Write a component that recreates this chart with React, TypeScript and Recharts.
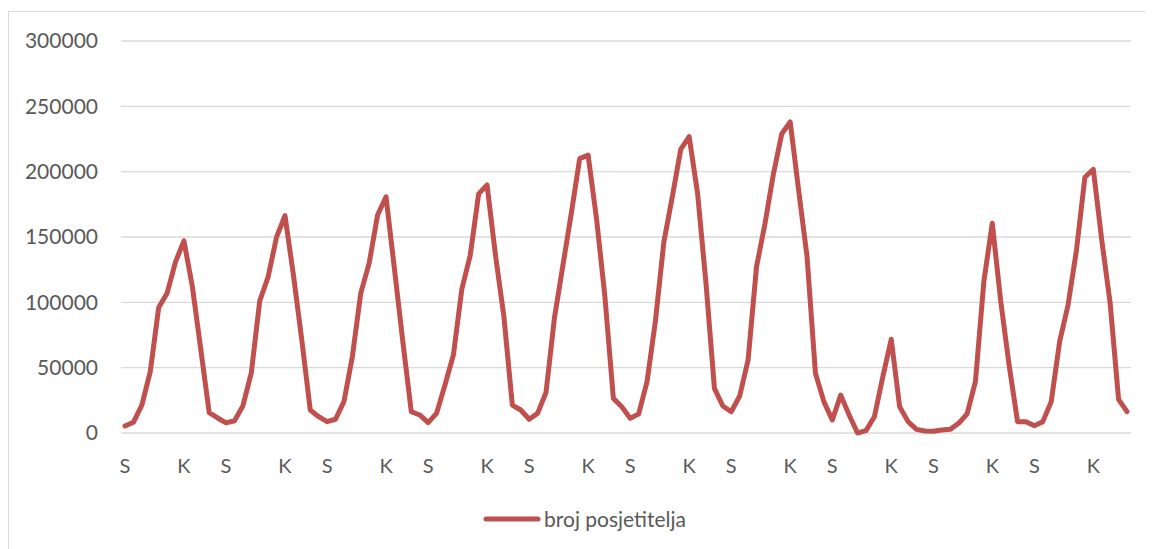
import React from 'react';
import { LineChart, Line, XAxis, YAxis, CartesianGrid, Legend } from 'recharts';

// Monthly visitor counts, 10 years x 12 months
const visitors: number[] = [
  5400, 8200, 21400, 47000, 96000, 107000, 131000, 147000, 112000, 64000, 15500, 11500,
  7700, 9400, 20700, 46000, 101000, 119500, 150000, 166400, 121000, 71000, 17600, 12500,
  8700, 10500, 24000, 58400, 107000, 130000, 166800, 180800, 125500, 69600, 16300, 13800,
  7900, 15000, 36700, 59700, 110000, 136000, 183000, 189800, 136000, 89000, 21400, 17600,
  10500, 15000, 31000, 88000, 128000, 168000, 210000, 212700, 164000, 104000, 26500, 20100,
  11200, 14500, 39300, 86000, 146400, 180800, 217000, 226800, 183400, 114600, 34200, 20700,
  16300, 28300, 55900, 127300, 160000, 198000, 229000, 238000, 186000, 135000, 45700, 24000,
  10000, 29000, 13800, 0, 1800, 12500, 43000, 71700, 20100, 8700, 2800, 1500,
  1300, 2300, 2800, 7400, 14500, 39300, 116000, 160500, 101000, 52000, 8700, 8700,
  5600, 8700, 24000, 69900, 98000, 140000, 195700, 201800, 147700, 99300, 25800, 16300,
];

// Month tick labels: S = siječanj, K = kolovoz
const monthTicks: string[] = ['S', '', '', '', '', '', '', 'K', '', '', '', ''];

const yTicks: number[] = [0, 50000, 100000, 150000, 200000, 250000, 300000];

const seriesName = 'broj posjetitelja';

const data = visitors.map((v, i) => ({ idx: i, label: monthTicks[i % 12], value: v }));

const FONT = 'Lato, "Open Sans", sans-serif';
const COLOR = '#c0504d';
const TEXT = '#595959';

const renderLegend = () => (
  <div style={{ display: 'flex', alignItems: 'center', fontFamily: FONT, fontSize: 21, color: TEXT }}>
    <svg width={58} height={10} style={{ marginRight: 3 }}>
      <line x1={3} y1={5} x2={55} y2={5} stroke={COLOR} strokeWidth={5} strokeLinecap="round" />
    </svg>
    <span>{seriesName}</span>
  </div>
);

export default function App() {
  return (
    <div
      style={{
        width: 1145,
        height: 538,
        marginTop: 3,
        borderTop: '1px solid #d9d9d9',
        borderLeft: '1px solid #d9d9d9',
        boxSizing: 'border-box',
        position: 'relative',
        background: '#fff',
        overflow: 'hidden',
      }}
    >
      <LineChart width={1144} height={537} data={data} margin={{ top: 29, right: 22, bottom: 62, left: 0 }}>
        <CartesianGrid vertical={false} stroke="#d9d9d9" strokeWidth={1.3} />
        <XAxis
          dataKey="idx"
          type="category"
          interval={0}
          tickFormatter={(v: number) => monthTicks[v % 12]}
          axisLine={false}
          tickLine={false}
          tickSize={0}
          tickMargin={26}
          height={30}
          padding={{ left: 4, right: 4 }}
          tick={{ fill: TEXT, fontSize: 20, fontFamily: FONT }}
        />
        <YAxis
          domain={[0, 300000]}
          ticks={yTicks}
          interval={0}
          axisLine={false}
          tickLine={false}
          tickSize={0}
          tickMargin={23}
          width={112}
          tick={{ fill: TEXT, fontSize: 21, fontFamily: FONT }}
        />
        <Legend
          verticalAlign="bottom"
          height={24}
          content={renderLegend}
          wrapperStyle={{ position: 'absolute', left: 474, top: 494, width: 'auto', height: 24 }}
        />
        <Line
          type="linear"
          dataKey="value"
          name={seriesName}
          stroke={COLOR}
          strokeWidth={5}
          strokeLinejoin="round"
          strokeLinecap="round"
          dot={false}
          activeDot={false}
          isAnimationActive={false}
        />
      </LineChart>
    </div>
  );
}
